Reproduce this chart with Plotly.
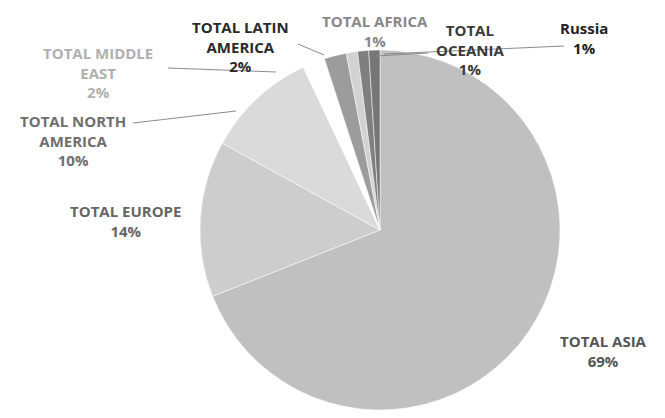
import plotly.graph_objects as go

regions = ["TOTAL ASIA", "TOTAL EUROPE", "TOTAL NORTH AMERICA", "TOTAL MIDDLE EAST",
           "TOTAL LATIN AMERICA", "TOTAL AFRICA", "TOTAL OCEANIA", "Russia"]
shares = [69, 14, 10, 2, 2, 1, 1, 1]
label_text = ["TOTAL ASIA<br>69%", "TOTAL EUROPE<br>14%", "TOTAL NORTH<br>AMERICA<br>10%",
              "TOTAL MIDDLE<br>EAST<br>2%", "TOTAL LATIN<br>AMERICA<br>2%", "TOTAL AFRICA<br>1%",
              "TOTAL<br>OCEANIA<br>1%", "Russia<br>1%"]

colors = ["#c0c0c0", "#cdcdcd", "#dadada", "#ffffff", "#9c9c9c", "#d2d2d2", "#7f7f7f", "#767676"]
text_colors = ["#555555", "#666666", "#6e6e6e", "#b0b0b0", "#2a2a2a", "#888888", "#3a3a3a", "#222222"]
label_pos = [(595, 343), (117, 213), (65, 133), (90, 65), (232, 38), (367, 23), (462, 41), (576, 30)]
lines = [None, None, [(125, 115), (228, 103)], [(160, 60), (268, 64)], [(290, 36), (316, 47)],
         None, [(420, 45), (368, 48)], [(556, 38), (376, 46)]]

W, H = 665, 418
fig = go.Figure(go.Pie(
    labels=regions, values=shares, sort=False, direction="clockwise", rotation=0,
    marker=dict(colors=colors, line=dict(color="#ffffff", width=0.5)),
    textinfo="none", hoverinfo="label+percent",
    domain=dict(x=[192 / W, 552 / W], y=[16 / H, 376 / H]),
))
for txt, c, (px, py) in zip(label_text, text_colors, label_pos):
    fig.add_annotation(x=px / W, y=1 - py / H, xref="paper", yref="paper", text=f"<b>{txt}</b>",
                       xanchor="center", yanchor="middle", showarrow=False,
                       font=dict(size=15, color=c, family="Open Sans"), align="center")
for ln in lines:
    if ln:
        (x0, y0), (x1, y1) = ln
        fig.add_shape(type="line", xref="paper", yref="paper", x0=x0 / W, y0=1 - y0 / H,
                      x1=x1 / W, y1=1 - y1 / H, line=dict(color="#8c8c8c", width=1))
fig.update_layout(width=W, height=H, margin=dict(l=0, r=0, t=0, b=0), showlegend=False,
                  paper_bgcolor="white")
fig.write_html("out.html")
